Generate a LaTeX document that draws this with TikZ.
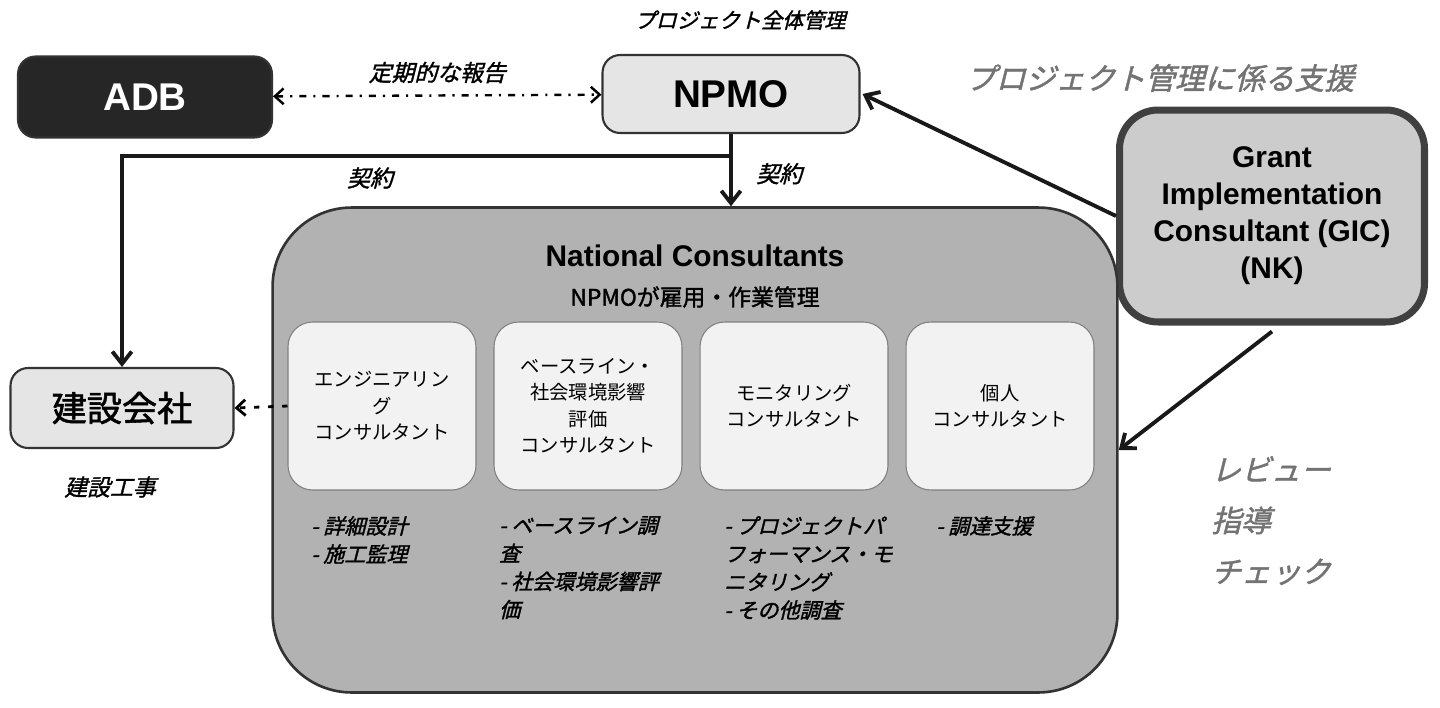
\documentclass[tikz,border=0pt]{standalone}
\usepackage{fontspec}
\setmainfont{Liberation Sans}
\newfontfamily\jp{Noto Sans CJK JP}
\newfontfamily\jpb[FakeBold=1.5]{Noto Sans CJK JP}
\newfontfamily\jpi[FakeSlant=0.25,FakeBold=1.5]{Noto Sans CJK JP}
\usetikzlibrary{arrows.meta, backgrounds, calc}
\tikzset{
    x=0.02cm, y=-0.02cm,
    box/.style={draw=black!80,line width=1.2pt,rounded corners=10pt,fill=black!10,inner sep=0pt},
    cbox/.style={draw=black!50,line width=0.6pt,rounded corners=14pt,fill=black!5,minimum width=3.76cm,minimum height=3.36cm,align=center,font=\jp\fontsize{11}{15}\selectfont,inner sep=0pt},
    note/.style={font=\jpi\fontsize{12}{16}\selectfont,align=left,anchor=north west},
    garrow/.style={-{Straight Barb[length=7pt,width=11pt]},line width=2.2pt,draw=black!90},
}
\begin{document}
\begin{tikzpicture}
\useasboundingbox (0,0) rectangle (1440,707);
% upper row
\node[box,fill=black!85,minimum width=5.08cm,minimum height=1.62cm,text=white,font=\bfseries\fontsize{22}{26}\selectfont] (adb) at (145,97) {ADB};
\node[box,minimum width=5.14cm,minimum height=1.56cm,font=\bfseries\fontsize{22}{26}\selectfont] (npmo) at (731,94) {NPMO};
\node[font=\jpi\fontsize{12}{14}\selectfont] (overall) at (740,20) {プロジェクト全体管理};
\node[font=\jpi\fontsize{17}{20}\selectfont,text=black!55] (support) at (1160,78) {プロジェクト管理に係る支援};
\draw[{Straight Barb[length=5pt,width=9pt]}-{Straight Barb[length=5pt,width=9pt]},dash pattern=on 4pt off 4pt on 1.2pt off 4pt,line width=1.4pt] (adb) -- node[above=3pt,font=\jpi\fontsize{13}{15}\selectfont] (report) {定期的な報告} (npmo);
% GIC
\node[box,line width=4pt,draw=black!75,rounded corners=22pt,fill=black!20,minimum width=6.1cm,minimum height=4.24cm,align=center,font=\bfseries\fontsize{17}{21}\selectfont] (gic) at (1272,216) {Grant\\Implementation\\Consultant (GIC)\\(NK)};
% big box
\node[box,line width=1.5pt,rounded corners=45pt,fill=black!30,minimum width=16.9cm,minimum height=9.7cm] (nc) at (695,450) {};
\node[font=\bfseries\fontsize{17}{20}\selectfont] (nctitle) at (695,256) {National Consultants};
\node[font=\jpb\fontsize{13}{15}\selectfont] (ncsub) at (695,297) {NPMOが雇用・作業管理};
\node[box,minimum width=4.46cm,minimum height=1.6cm,font=\jpb\fontsize{20}{24}\selectfont] (kensetsu) at (122,408) {建設会社};
\node[font=\jpi\fontsize{13}{15}\selectfont] (koji) at (110,487) {建設工事};
% consultants
\node[cbox] (eng) at (382,406) {エンジニアリン\\グ\\コンサルタント};
\node[cbox] (base) at (588,406) {ベースライン・\\社会環境影響\\評価\\コンサルタント};
\node[cbox] (mon) at (794,406) {モニタリング\\コンサルタント};
\node[cbox] (ind) at (1000,406) {個人\\コンサルタント};
\node[note] (n1) at (305,510) {- 詳細設計\\- 施工監理};
\node[note] (n2) at (493,510) {- ベースライン調\\査\\- 社会環境影響評\\価};
\node[note] (n3) at (718,510) {- プロジェクトパ\\フォーマンス・モ\\ニタリング\\- その他調査};
\node[note] (n4) at (930,510) {- 調達支援};
\node[font=\jpi\fontsize{17}{29}\selectfont,text=black!55,align=left,anchor=north west] (review) at (1205,450) {レビュー\\指導\\チェック};
% contracts
\draw[garrow] (npmo.south) -- (npmo.south |- nc.north) node[pos=0.55,right=10pt,font=\jpi\fontsize{13}{15}\selectfont,text=black] (k2) {契約};
\draw[garrow] ($(npmo.south)+(0,22)$) -| (kensetsu.north);
\node[font=\jpi\fontsize{13}{15}\selectfont] (k1) at (370,178) {契約};
\draw[garrow] (gic.west) -- ($(npmo.east)+(2,0)$);
\draw[garrow] ($(gic.south)+(0,6)$) -- ($(nc.east)+(0,0)$);
\draw[-{Straight Barb[length=5pt,width=9pt]},dash pattern=on 3pt off 5pt,line width=1.6pt] (eng.west) -- (kensetsu.east);
\end{tikzpicture}
\end{document}
